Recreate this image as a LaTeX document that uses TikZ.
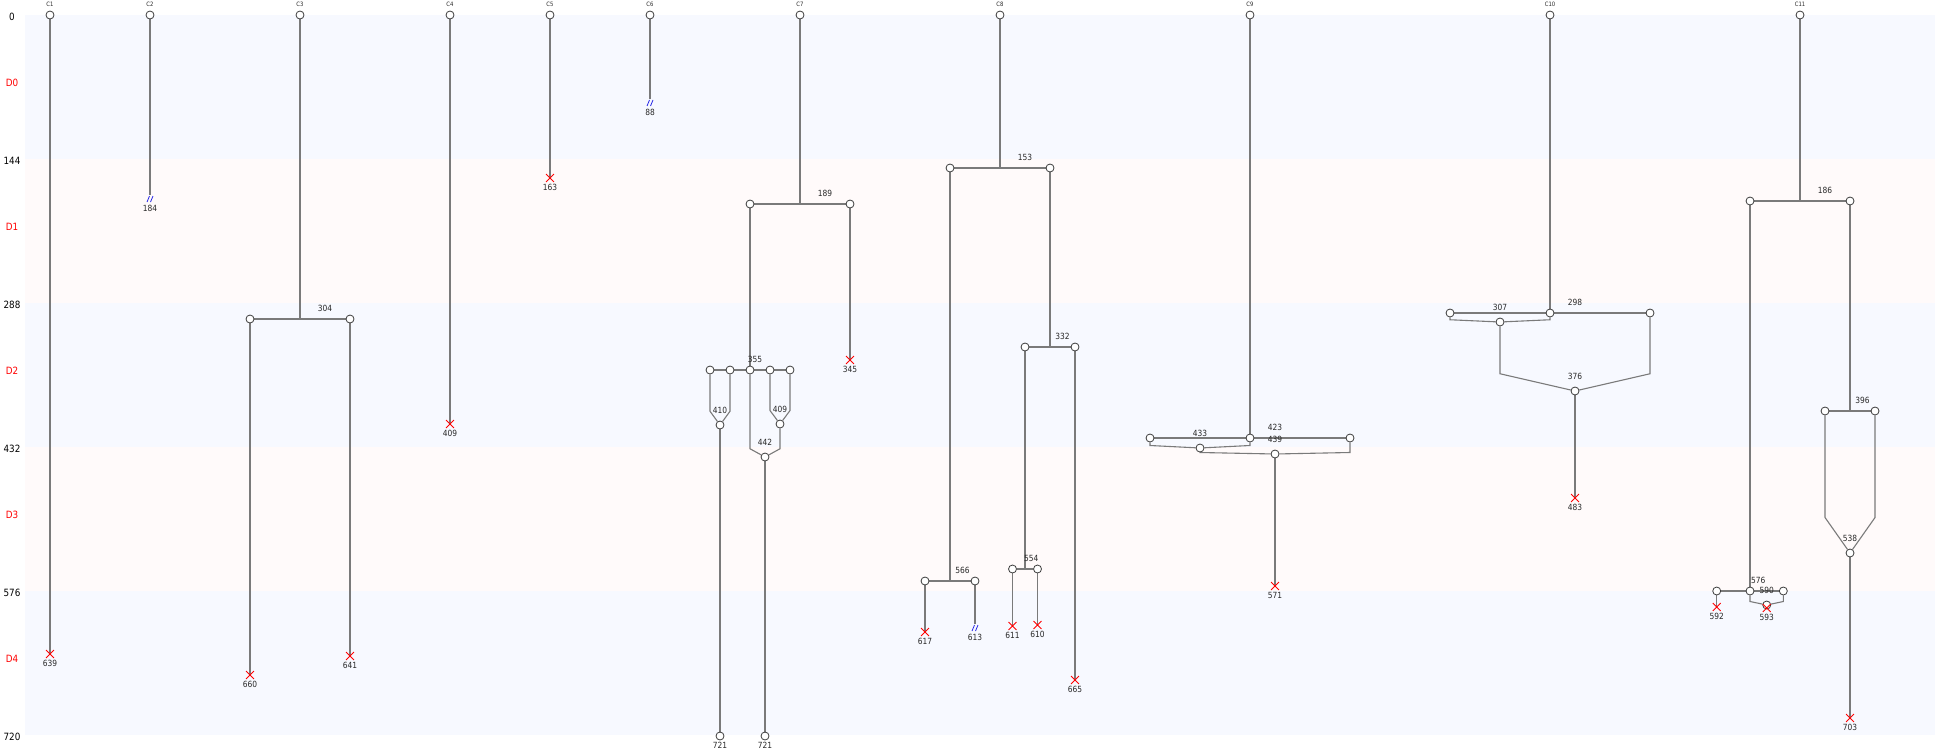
\documentclass[tikz,border=0pt]{standalone}
\usepackage{fontspec}
\setmainfont{DejaVu Sans}
\newfontfamily\labfont{DejaVu Sans}[FakeStretch=0.88]
\usetikzlibrary{positioning,shapes.misc}
\definecolor{trackgray}{RGB}{122,122,122}
\definecolor{ringgray}{RGB}{60,60,60}
\definecolor{bandblue}{RGB}{247,249,255}
\definecolor{bandpink}{RGB}{255,250,250}
\definecolor{lostblue}{RGB}{40,40,230}
\definecolor{labgray}{RGB}{40,40,40}
\pgfdeclarelayer{bands}
\pgfdeclarelayer{tracks}
\pgfsetlayers{bands,tracks,main}
\newcommand\lostmark[1]{\draw[lostline] ([shift={(-3pt,-3pt)}]#1.center) -- ([shift={(-0.5pt,3pt)}]#1.center) ([shift={(0.5pt,-3pt)}]#1.center) -- ([shift={(3pt,3pt)}]#1.center);}

\begin{document}
\begin{tikzpicture}[
    x=1pt, y=-1pt,
    ev/.style={circle, draw=ringgray, fill=white, line width=0.8pt, minimum size=8pt, inner sep=0pt},
    dead/.style={cross out, draw=red, line width=0.9pt, minimum size=7pt, inner sep=0pt},
    lost/.style={rectangle, minimum size=7pt, inner sep=0pt},
    lostline/.style={draw=lostblue, line width=0.8pt},
    trk/.style={draw=trackgray, line width=1.1pt},
    lab/.style={font=\labfont\fontsize{8.5}{8.5}\selectfont, text=labgray, inner sep=0.5pt},
    hdr/.style={font=\labfont\fontsize{6}{6}\selectfont, text=labgray, inner sep=0pt},
    axis/.style={font=\labfont\fontsize{10}{10}\selectfont, inner sep=0pt}
]
\useasboundingbox (0,-15) rectangle (1950,735);
\begin{pgfonlayer}{bands}
\foreach \dy/\col in {0/bandblue,1/bandpink,2/bandblue,3/bandpink,4/bandblue}
    \fill[\col] (25,144*\dy) rectangle (1935,144*\dy+144);
\end{pgfonlayer}

\foreach \tm in {0,144,...,720}
    \node (tk\tm) [axis] at (12,\tm+2) {\tm};
\foreach \dy in {0,...,4}
    \node (day\dy) [axis, text=red] at (12,144*\dy+68) {D\dy};

\foreach \i/\x in {1/50,2/150,3/300,4/450,5/550,6/650,7/800,8/1000,9/1250,10/1550,11/1800} {
    \node (c\i) [ev] at (\x,0) {};
    \node (h\i) [hdr] at (\x,-11) {C\i};
}

% C1 - C6
\node (c1x) [dead] at (50,639) {};
\node (c1xt) [lab, below=1.5pt of c1x] {639};
\node (c2l) [lost] at (150,184) {};
\node (c2lt) [lab, below=1.5pt of c2l] {184};
\coordinate (c3s) at (300,304);
\node (c3a) [ev] at (250,304) {};
\node (c3b) [ev] at (350,304) {};
\node (c3st) [lab] at (325,293) {304};
\node (c3ax) [dead] at (250,660) {};
\node (c3axt) [lab, below=1.5pt of c3ax] {660};
\node (c3bx) [dead] at (350,641) {};
\node (c3bxt) [lab, below=1.5pt of c3bx] {641};
\node (c4x) [dead] at (450,409) {};
\node (c4xt) [lab, below=1.5pt of c4x] {409};
\node (c5x) [dead] at (550,163) {};
\node (c5xt) [lab, below=1.5pt of c5x] {163};
\node (c6l) [lost] at (650,88) {};
\node (c6lt) [lab, below=1.5pt of c6l] {88};

% C7
\coordinate (c7s) at (800,189);
\node (c7a) [ev] at (750,189) {};
\node (c7b) [ev] at (850,189) {};
\node (c7st) [lab] at (825,178) {189};
\node (c7bx) [dead] at (850,345) {};
\node (c7bxt) [lab, below=1.5pt of c7bx] {345};
\foreach \j/\x in {1/710,2/730,3/750,4/770,5/790}
    \node (c7q\j) [ev] at (\x,355) {};
\node (c7qt) [lab] at (755,344) {355};
\coordinate (c7k1) at (710,396.25);
\coordinate (c7k2) at (730,396.25);
\node (c7m1) [ev] at (720,410) {};
\node (c7m1t) [lab] at (720,395) {410};
\coordinate (c7k3) at (770,395.5);
\coordinate (c7k4) at (790,395.5);
\node (c7m2) [ev] at (780,409) {};
\node (c7m2t) [lab] at (780,394) {409};
\coordinate (c7k5) at (750,433.75);
\coordinate (c7k6) at (780,433.75);
\node (c7m3) [ev] at (765,442) {};
\node (c7m3t) [lab] at (765,427) {442};
\node (c7e1) [ev] at (720,721) {};
\node (c7e1t) [lab, below=1.5pt of c7e1] {721};
\node (c7e2) [ev] at (765,721) {};
\node (c7e2t) [lab, below=1.5pt of c7e2] {721};

% C8
\coordinate (c8s) at (1000,153);
\node (c8a) [ev] at (950,153) {};
\node (c8b) [ev] at (1050,153) {};
\node (c8st) [lab] at (1025,142) {153};
\coordinate (c8as) at (950,566);
\node (c8aa) [ev] at (925,566) {};
\node (c8ab) [ev] at (975,566) {};
\node (c8ast) [lab] at (962.5,555) {566};
\node (c8aax) [dead] at (925,617) {};
\node (c8aaxt) [lab, below=1.5pt of c8aax] {617};
\node (c8abl) [lost] at (975,613) {};
\node (c8ablt) [lab, below=1.5pt of c8abl] {613};
\coordinate (c8bs) at (1050,332);
\node (c8ba) [ev] at (1025,332) {};
\node (c8bb) [ev] at (1075,332) {};
\node (c8bst) [lab] at (1062.5,321) {332};
\coordinate (c8bas) at (1025,554);
\node (c8baa) [ev] at (1012.5,554) {};
\node (c8bab) [ev] at (1037.5,554) {};
\node (c8bast) [lab] at (1031.25,543) {554};
\node (c8baax) [dead] at (1012.5,611) {};
\node (c8baaxt) [lab, below=1.5pt of c8baax] {611};
\node (c8babx) [dead] at (1037.5,610) {};
\node (c8babxt) [lab, below=1.5pt of c8babx] {610};
\node (c8bbx) [dead] at (1075,665) {};
\node (c8bbxt) [lab, below=1.5pt of c8bbx] {665};

% C9
\node (c9l) [ev] at (1150,423) {};
\node (c9m) [ev] at (1250,423) {};
\node (c9r) [ev] at (1350,423) {};
\node (c9st) [lab] at (1275,412) {423};
\coordinate (c9k1) at (1150,430.5);
\coordinate (c9k2) at (1250,430.5);
\node (c9m1) [ev] at (1200,433) {};
\node (c9m1t) [lab] at (1200,418) {433};
\coordinate (c9k3) at (1200,437.5);
\coordinate (c9k4) at (1350,437.5);
\node (c9m2) [ev] at (1275,439) {};
\node (c9m2t) [lab] at (1275,424) {439};
\node (c9x) [dead] at (1275,571) {};
\node (c9xt) [lab, below=1.5pt of c9x] {571};

% C10
\node (c10l) [ev] at (1450,298) {};
\node (c10m) [ev] at (1550,298) {};
\node (c10r) [ev] at (1650,298) {};
\node (c10st) [lab] at (1575,287) {298};
\coordinate (c10k1) at (1450,304.75);
\coordinate (c10k2) at (1550,304.75);
\node (c10m1) [ev] at (1500,307) {};
\node (c10m1t) [lab] at (1500,292) {307};
\coordinate (c10k3) at (1500,358.75);
\coordinate (c10k4) at (1650,358.75);
\node (c10m2) [ev] at (1575,376) {};
\node (c10m2t) [lab] at (1575,361) {376};
\node (c10x) [dead] at (1575,483) {};
\node (c10xt) [lab, below=1.5pt of c10x] {483};

% C11
\coordinate (c11s) at (1800,186);
\node (c11a) [ev] at (1750,186) {};
\node (c11b) [ev] at (1850,186) {};
\node (c11st) [lab] at (1825,175) {186};
\coordinate (c11bs) at (1850,396);
\node (c11ba) [ev] at (1825,396) {};
\node (c11bb) [ev] at (1875,396) {};
\node (c11bst) [lab] at (1862.5,385) {396};
\coordinate (c11k1) at (1825,502.5);
\coordinate (c11k2) at (1875,502.5);
\node (c11m1) [ev] at (1850,538) {};
\node (c11m1t) [lab] at (1850,523) {538};
\node (c11m1x) [dead] at (1850,703) {};
\node (c11m1xt) [lab, below=1.5pt of c11m1x] {703};
\node (c11al) [ev] at (1716.7,576) {};
\node (c11am) [ev] at (1750,576) {};
\node (c11ar) [ev] at (1783.3,576) {};
\node (c11ast) [lab] at (1758.3,565) {576};
\node (c11alx) [dead] at (1716.7,592) {};
\node (c11alxt) [lab, below=1.5pt of c11alx] {592};
\coordinate (c11k3) at (1750,586.5);
\coordinate (c11k4) at (1783.3,586.5);
\node (c11m2) [ev] at (1766.7,590) {};
\node (c11m2t) [lab] at (1766.7,575) {590};
\node (c11m2x) [dead] at (1766.7,593) {};
\node (c11m2xt) [lab, below=1.5pt of c11m2x] {593};

\lostmark{c2l}
\lostmark{c6l}
\lostmark{c8abl}

\begin{pgfonlayer}{tracks}
\draw[trk] (c1) -- (c1x.center);
\draw[trk] (c2) -- (c2l);
\draw[trk] (c3) -- (c3s);
\draw[trk] (c3a) -- (c3b);
\draw[trk] (c3a) -- (c3ax.center);
\draw[trk] (c3b) -- (c3bx.center);
\draw[trk] (c4) -- (c4x.center);
\draw[trk] (c5) -- (c5x.center);
\draw[trk] (c6) -- (c6l);
\draw[trk] (c7) -- (c7s);
\draw[trk] (c7a) -- (c7b);
\draw[trk] (c7b) -- (c7bx.center);
\draw[trk] (c7a) -- (c7q3);
\draw[trk] (c7q1) -- (c7q2) -- (c7q3) -- (c7q4) -- (c7q5);
\draw[trk] (c7q1) -- (c7k1) -- (c7m1);
\draw[trk] (c7q2) -- (c7k2) -- (c7m1);
\draw[trk] (c7q4) -- (c7k3) -- (c7m2);
\draw[trk] (c7q5) -- (c7k4) -- (c7m2);
\draw[trk] (c7q3) -- (c7k5) -- (c7m3);
\draw[trk] (c7m2) -- (c7k6) -- (c7m3);
\draw[trk] (c7m1) -- (c7e1);
\draw[trk] (c7m3) -- (c7e2);
\draw[trk] (c8) -- (c8s);
\draw[trk] (c8a) -- (c8b);
\draw[trk] (c8a) -- (c8as);
\draw[trk] (c8aa) -- (c8ab);
\draw[trk] (c8aa) -- (c8aax.center);
\draw[trk] (c8ab) -- (c8abl);
\draw[trk] (c8b) -- (c8bs);
\draw[trk] (c8ba) -- (c8bb);
\draw[trk] (c8ba) -- (c8bas);
\draw[trk] (c8baa) -- (c8bab);
\draw[trk] (c8baa) -- (c8baax.center);
\draw[trk] (c8bab) -- (c8babx.center);
\draw[trk] (c8bb) -- (c8bbx.center);
\draw[trk] (c9) -- (c9m);
\draw[trk] (c9l) -- (c9m) -- (c9r);
\draw[trk] (c9l) -- (c9k1) -- (c9m1);
\draw[trk] (c9m) -- (c9k2) -- (c9m1);
\draw[trk] (c9m1) -- (c9k3) -- (c9m2);
\draw[trk] (c9r) -- (c9k4) -- (c9m2);
\draw[trk] (c9m2) -- (c9x.center);
\draw[trk] (c10) -- (c10m);
\draw[trk] (c10l) -- (c10m) -- (c10r);
\draw[trk] (c10l) -- (c10k1) -- (c10m1);
\draw[trk] (c10m) -- (c10k2) -- (c10m1);
\draw[trk] (c10m1) -- (c10k3) -- (c10m2);
\draw[trk] (c10r) -- (c10k4) -- (c10m2);
\draw[trk] (c10m2) -- (c10x.center);
\draw[trk] (c11) -- (c11s);
\draw[trk] (c11a) -- (c11b);
\draw[trk] (c11b) -- (c11bs);
\draw[trk] (c11ba) -- (c11bb);
\draw[trk] (c11ba) -- (c11k1) -- (c11m1);
\draw[trk] (c11bb) -- (c11k2) -- (c11m1);
\draw[trk] (c11m1) -- (c11m1x.center);
\draw[trk] (c11a) -- (c11am);
\draw[trk] (c11al) -- (c11am) -- (c11ar);
\draw[trk] (c11al) -- (c11alx.center);
\draw[trk] (c11am) -- (c11k3) -- (c11m2);
\draw[trk] (c11ar) -- (c11k4) -- (c11m2);
\draw[trk] (c11m2) -- (c11m2x.center);
\end{pgfonlayer}
\end{tikzpicture}
\end{document}
